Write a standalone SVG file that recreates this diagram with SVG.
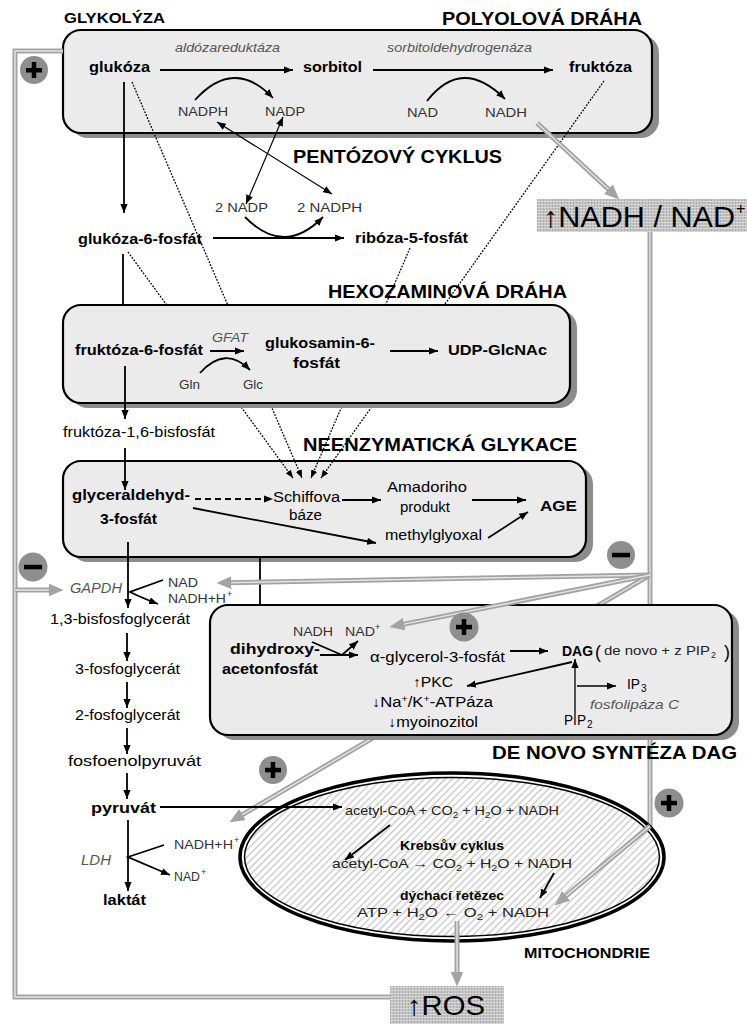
<svg xmlns="http://www.w3.org/2000/svg" width="747" height="1024" viewBox="0 0 747 1024">
<defs>
<style>
text{font-family:"Liberation Sans",Arial,sans-serif;fill:#000}
.h{font-weight:bold;font-size:18px}
.b{font-weight:bold;font-size:14px}
.n{font-size:14px}
.s{font-size:13px;fill:#333}
.i{font-style:italic;font-size:13px;fill:#555}
.m{font-size:13px;fill:#222}
.ln{fill:none;stroke:#000;stroke-width:1.8}
.ar{marker-end:url(#ah)}
.dot{fill:none;stroke:#000;stroke-width:1.3;stroke-dasharray:1.8 1.4;marker-end:url(#ahs)}
.g1{fill:none;stroke:#a3a3a3;stroke-width:5}
.g2{fill:none;stroke:#e4e4e4;stroke-width:1.4}
.box{fill:#ebebeb;stroke:#000;stroke-width:2.2}
.sh{fill:#8c8c8c}
.pm{fill:#8e8e8e}
</style>
<marker id="ah" viewBox="0 0 10 8" refX="10" refY="4" markerWidth="9" markerHeight="7.5" markerUnits="userSpaceOnUse" orient="auto-start-reverse"><path d="M0,0 L10,4 L0,8 z" fill="#000"/></marker>
<marker id="ahs" viewBox="0 0 10 8" refX="10" refY="4" markerWidth="8" markerHeight="7" markerUnits="userSpaceOnUse" orient="auto"><path d="M0,0 L10,4 L0,8 z" fill="#000"/></marker>
<marker id="ag" viewBox="0 0 14 12" refX="6" refY="6" markerWidth="15" markerHeight="13" markerUnits="userSpaceOnUse" orient="auto"><path d="M0,0 L14,6 L0,12 z" fill="#a3a3a3"/></marker>
<pattern id="hatch" width="5" height="5" patternUnits="userSpaceOnUse" patternTransform="rotate(45)"><rect width="5" height="5" fill="#fff"/><rect width="1.3" height="5" fill="#c6c6c6"/></pattern>
<pattern id="stip" width="3" height="3" patternUnits="userSpaceOnUse"><rect width="3" height="3" fill="#c4c4c4"/><rect width="1" height="3" fill="#ababab"/><rect width="3" height="1" fill="#d6d6d6"/></pattern>
</defs>
<rect width="747" height="1024" fill="#fff"/>

<g id="polyol">
<rect class="sh" x="70" y="35" width="589" height="103" rx="18"/>
<rect class="box" x="63" y="30" width="589" height="103" rx="18"/>
<text class="h" x="64" y="23" textLength="101" lengthAdjust="spacingAndGlyphs" style="font-size:15px">GLYKOLÝZA</text>
<text class="h" x="442" y="25" textLength="200" lengthAdjust="spacingAndGlyphs">POLYOLOVÁ DRÁHA</text>
</g>
<g id="glykace">
<rect class="sh" x="70" y="466" width="523" height="96" rx="18"/>
<rect class="box" x="63" y="461" width="523" height="96" rx="18"/>
<text class="h" x="303" y="451" textLength="274" lengthAdjust="spacingAndGlyphs">NEENZYMATICKÁ GLYKACE</text>
</g>

<g id="connectors-dotted">
<path class="dot" d="M128,252 L293,478"/>
<path class="dot" d="M132,82 L302,478"/>
<path class="dot" d="M410,248 L311,478"/>
<path class="dot" d="M604,81 L321,478"/>
</g>

<g id="hexozamin">
<rect class="sh" x="70" y="310" width="507" height="98" rx="18"/>
<rect class="box" x="63" y="305" width="507" height="98" rx="18"/>
<text class="h" x="328" y="298" textLength="239" lengthAdjust="spacingAndGlyphs">HEXOZAMINOVÁ DRÁHA</text>
</g>

<g id="connectors-back">
<path class="g1" d="M650,575 L236.9,817.9"/><path class="g2" d="M650,575 L236.9,817.9" marker-end="url(#ag)"/>
<path class="g1" d="M650,232 L650,827"/><path class="g2" d="M650,232 L650,827"/>
</g>

<g id="dag">
<rect class="sh" x="217" y="610" width="522" height="130" rx="18"/>
<rect class="box" x="210" y="605" width="522" height="130" rx="18"/>
<text class="h" x="492" y="759" textLength="245" lengthAdjust="spacingAndGlyphs">DE NOVO SYNTÉZA DAG</text>
</g>

<g id="mito">
<ellipse cx="452" cy="857" rx="212" ry="84" fill="#fff" stroke="#000" stroke-width="3.5"/>
<ellipse cx="452" cy="857" rx="207.5" ry="79.5" fill="url(#hatch)" stroke="#000" stroke-width="1.5"/>
<text class="b" x="524" y="958" textLength="126" lengthAdjust="spacingAndGlyphs">MITOCHONDRIE</text>
</g>

<g id="connectors">
<path class="ln ar" d="M160,70 L293,70"/>
<path class="ln ar" d="M373,70 L553,70"/>
<path class="ln ar" d="M195,100 Q234,57 273,98"/>
<path class="ln ar" d="M427,101 Q462,56 505,99"/>
<path class="ln ar" style="stroke-width:1.2;marker-start:url(#ah)" d="M217,122 L332,194"/>
<path class="ln ar" style="stroke-width:1.2;marker-start:url(#ah)" d="M283,117 L246,204"/>
<path class="ln ar" d="M245,217 Q284,257 323,217"/>
<path class="ln ar" d="M124,82 L124,213"/>
<path class="ln ar" d="M213,238 L344,238"/>
<path class="ln" d="M123,254 L123,305"/>
<path class="ln ar" d="M210,351 L244,351"/>
<path class="ln ar" d="M200,373 Q225,345 250,370"/>
<path class="ln ar" d="M390,351 L438,351"/>
<path class="ln ar" d="M125,366 L125,419"/>
<path class="ln ar" d="M125,448 L125,490"/>
<path class="ln ar" style="stroke-dasharray:6 4" d="M195,499 L273,499"/>
<path class="ln ar" d="M342,500 L381,500"/>
<path class="ln ar" d="M472,500 L526,500"/>
<path class="ln ar" d="M193,508 L376,543"/>
<path class="ln ar" d="M488,538 L528,512"/>
<path class="ln ar" d="M128,542 L128,608"/>
<path class="ln ar" d="M163,580 L130,592 Q140,597 158,604"/>
<path class="ln ar" d="M127,633 L127,661"/>
<path class="ln ar" d="M127,682 L127,708"/>
<path class="ln ar" d="M127,728 L127,754"/>
<path class="ln ar" d="M127,773 L127,799"/>
<path class="ln ar" d="M160,807 L342,807"/>
<path class="ln ar" d="M128,820 L128,891"/>
<path class="ln ar" d="M164,845 L128,857 L170,875"/>
<path class="ln" d="M260,557 L260,605"/>
<path class="ln ar" d="M312,642 L342,655 L358,641"/>
<path class="ln ar" d="M320,655 L358,655"/>
<path class="ln ar" d="M510,651 L548,651"/>
<path class="ln ar" d="M572,662 L467,686"/>
<path class="ln ar" style="stroke-width:1.3" d="M575,715 L575,659"/>
<path class="ln ar" style="stroke-width:1.3" d="M577,686 L616,686"/>
<path class="ln ar" d="M390,825 L345,860"/>
<path class="ln ar" d="M554,873 L540,898"/>

<path class="g1" d="M537,123 L613.1,193.6"/><path class="g2" d="M537,123 L613.1,193.6" marker-end="url(#ag)"/>
<path class="g1" d="M650,826 L561.2,899.9"/><path class="g2" d="M650,826 L561.2,899.9" marker-end="url(#ag)"/>
<path class="g1" d="M650,575 L225,582.8"/><path class="g2" d="M650,575 L225,582.8" marker-end="url(#ag)"/>
<path class="g1" d="M650,575 L397.8,625.4"/><path class="g2" d="M650,575 L397.8,625.4" marker-end="url(#ag)"/>
<path class="g1" d="M457,921 L457,978"/><path class="g2" d="M457,921 L457,978" marker-end="url(#ag)"/>
<path class="g1" d="M390,997 L15,997 L15,51 L63,51"/><path class="g2" d="M390,997 L15,997 L15,51 L63,51"/>
<path class="g1" d="M15,590 L55,590"/><path class="g2" d="M15,590 L55,590" marker-end="url(#ag)"/>
</g>

<g id="nadh-ratio">
<rect x="537" y="199" width="210" height="33" fill="url(#stip)"/>
<text x="543" y="227" textLength="192" lengthAdjust="spacingAndGlyphs" style="font-size:29px">↑NADH / NAD</text>
<text x="736" y="214" style="font-size:16px">+</text>
</g>
<g id="ros">
<rect x="390" y="986" width="114" height="38" fill="url(#stip)"/>
<text x="407" y="1015" textLength="78" lengthAdjust="spacingAndGlyphs" style="font-size:28px">↑ROS</text>
</g>

<g id="n-glukoza"><text class="b" x="89" y="72" textLength="61" lengthAdjust="spacingAndGlyphs">glukóza</text></g>
<g id="e-aldozareduktaza"><text class="i" x="175" y="52" textLength="105" lengthAdjust="spacingAndGlyphs">aldózareduktáza</text></g>
<g id="n-sorbitol"><text class="b" x="303" y="72" textLength="59" lengthAdjust="spacingAndGlyphs">sorbitol</text></g>
<g id="e-sdh"><text class="i" x="387" y="52" textLength="145" lengthAdjust="spacingAndGlyphs">sorbitoldehydrogenáza</text></g>
<g id="n-fruktoza"><text class="b" x="569" y="72" textLength="63" lengthAdjust="spacingAndGlyphs">fruktóza</text></g>
<g id="n-nadph1"><text class="s" x="178" y="116" textLength="50" lengthAdjust="spacingAndGlyphs">NADPH</text></g>
<g id="n-nadp1"><text class="s" x="265" y="116" textLength="40" lengthAdjust="spacingAndGlyphs">NADP</text></g>
<g id="n-nad1"><text class="s" x="407" y="117" textLength="31" lengthAdjust="spacingAndGlyphs">NAD</text></g>
<g id="n-nadh1"><text class="s" x="485" y="117" textLength="42" lengthAdjust="spacingAndGlyphs">NADH</text></g>

<g id="l-pentoza"><text class="h" x="293" y="163" textLength="209" lengthAdjust="spacingAndGlyphs">PENTÓZOVÝ CYKLUS</text></g>
<g id="n-2nadp"><text class="s" x="215" y="212" textLength="53" lengthAdjust="spacingAndGlyphs">2 NADP</text></g>
<g id="n-2nadph"><text class="s" x="297" y="212" textLength="65" lengthAdjust="spacingAndGlyphs">2 NADPH</text></g>
<g id="n-g6p"><text class="b" x="78" y="244" textLength="124" lengthAdjust="spacingAndGlyphs">glukóza-6-fosfát</text></g>
<g id="n-r5p"><text class="b" x="355" y="243" textLength="113" lengthAdjust="spacingAndGlyphs">ribóza-5-fosfát</text></g>

<g id="n-f6p"><text class="b" x="75" y="355" textLength="128" lengthAdjust="spacingAndGlyphs">fruktóza-6-fosfát</text></g>
<g id="e-gfat"><text class="i" x="212" y="342" textLength="36" lengthAdjust="spacingAndGlyphs">GFAT</text></g>
<g id="n-gln"><text class="s" x="179" y="389" textLength="21" lengthAdjust="spacingAndGlyphs">Gln</text></g>
<g id="n-glc"><text class="s" x="243" y="389" textLength="20" lengthAdjust="spacingAndGlyphs">Glc</text></g>
<g id="n-glcn6p"><text class="b" x="265" y="348" textLength="110" lengthAdjust="spacingAndGlyphs">glukosamin-6-</text><text class="b" x="293" y="368" textLength="47" lengthAdjust="spacingAndGlyphs">fosfát</text></g>
<g id="n-udp"><text class="b" x="448" y="355" textLength="99" lengthAdjust="spacingAndGlyphs">UDP-GlcNAc</text></g>
<g id="n-f16bp"><text class="n" x="63" y="437" textLength="152" lengthAdjust="spacingAndGlyphs">fruktóza-1,6-bisfosfát</text></g>

<g id="n-ga3p"><text class="b" x="72" y="500" textLength="118" lengthAdjust="spacingAndGlyphs">glyceraldehyd-</text><text class="b" x="100" y="524" textLength="57" lengthAdjust="spacingAndGlyphs">3-fosfát</text></g>
<g id="n-schiff"><text class="n" x="273" y="502" textLength="67" lengthAdjust="spacingAndGlyphs">Schiffova</text><text class="n" x="289" y="520" textLength="33" lengthAdjust="spacingAndGlyphs">báze</text></g>
<g id="n-amadori"><text class="n" x="387" y="492" textLength="80" lengthAdjust="spacingAndGlyphs">Amadoriho</text><text class="n" x="400" y="512" textLength="50" lengthAdjust="spacingAndGlyphs">produkt</text></g>
<g id="n-age"><text class="b" x="540" y="511" textLength="37" lengthAdjust="spacingAndGlyphs" style="font-size:15px">AGE</text></g>
<g id="n-mgo"><text class="n" x="385" y="540" textLength="97" lengthAdjust="spacingAndGlyphs">methylglyoxal</text></g>

<g id="e-gapdh"><text class="i" x="70" y="593" textLength="52" lengthAdjust="spacingAndGlyphs" style="font-size:14px">GAPDH</text></g>
<g id="n-nad2"><text class="s" x="168" y="587" textLength="30" lengthAdjust="spacingAndGlyphs">NAD</text></g>
<g id="n-nadh2"><text class="s" x="168" y="603" textLength="58" lengthAdjust="spacingAndGlyphs">NADH+H</text><text class="s" x="227" y="597" style="font-size:9px">+</text></g>
<g id="n-13bpg"><text class="n" x="50" y="624" textLength="140" lengthAdjust="spacingAndGlyphs">1,3-bisfosfoglycerát</text></g>
<g id="n-3pg"><text class="n" x="75" y="674" textLength="105" lengthAdjust="spacingAndGlyphs">3-fosfoglycerát</text></g>
<g id="n-2pg"><text class="n" x="75" y="720" textLength="105" lengthAdjust="spacingAndGlyphs">2-fosfoglycerát</text></g>
<g id="n-pep"><text class="n" x="68" y="766" textLength="133" lengthAdjust="spacingAndGlyphs">fosfoenolpyruvát</text></g>
<g id="n-pyruvat"><text class="b" x="91" y="813" textLength="65" lengthAdjust="spacingAndGlyphs" style="font-size:15px">pyruvát</text></g>
<g id="e-ldh"><text class="i" x="81" y="865" textLength="30" lengthAdjust="spacingAndGlyphs" style="font-size:14px">LDH</text></g>
<g id="n-nadh3"><text class="s" x="174" y="849" textLength="59" lengthAdjust="spacingAndGlyphs">NADH+H</text><text class="s" x="234" y="843" style="font-size:9px">+</text></g>
<g id="n-nad3"><text class="s" x="174" y="881" textLength="26" lengthAdjust="spacingAndGlyphs">NAD</text><text class="s" x="201" y="875" style="font-size:9px">+</text></g>
<g id="n-laktat"><text class="b" x="103" y="905" textLength="43" lengthAdjust="spacingAndGlyphs">laktát</text></g>

<g id="n-nadh4"><text class="s" x="293" y="636" textLength="40" lengthAdjust="spacingAndGlyphs">NADH</text></g>
<g id="n-nad4"><text class="s" x="345" y="636" textLength="30" lengthAdjust="spacingAndGlyphs">NAD</text><text class="s" x="375" y="630" style="font-size:9px">+</text></g>
<g id="n-dhap"><text class="b" x="230" y="654" textLength="90" lengthAdjust="spacingAndGlyphs">dihydroxy-</text><text class="b" x="222" y="674" textLength="96" lengthAdjust="spacingAndGlyphs">acetonfosfát</text></g>
<g id="n-ag3p"><text class="n" x="370" y="662" textLength="135" lengthAdjust="spacingAndGlyphs">α-glycerol-3-fosfát</text></g>
<g id="n-dag"><text class="b" x="562" y="656" textLength="31" lengthAdjust="spacingAndGlyphs" style="font-size:15px">DAG</text>
<text x="595" y="658" style="font-size:18px">(</text>
<text class="m" x="604" y="655" textLength="106" lengthAdjust="spacingAndGlyphs">de novo + z PIP</text>
<text class="m" x="711" y="658" style="font-size:9px">2</text>
<text x="724" y="658" style="font-size:18px">)</text></g>
<g id="n-effects"><text class="n" x="413" y="687" textLength="40" lengthAdjust="spacingAndGlyphs">↑PKC</text>
<text class="n" x="372" y="707" textLength="121" lengthAdjust="spacingAndGlyphs">↓Na<tspan dy="-5" style="font-size:9px">+</tspan><tspan dy="5">/K</tspan><tspan dy="-5" style="font-size:9px">+</tspan><tspan dy="5">-ATPáza</tspan></text>
<text class="n" x="388" y="727" textLength="90" lengthAdjust="spacingAndGlyphs">↓myoinozitol</text></g>
<g id="n-ip3"><text class="n" x="627" y="689" textLength="13" lengthAdjust="spacingAndGlyphs">IP</text><text class="n" x="641" y="692" style="font-size:10px">3</text></g>
<g id="e-plc"><text class="i" x="590" y="709" textLength="89" lengthAdjust="spacingAndGlyphs">fosfolipáza C</text></g>
<g id="n-pip2"><text class="n" x="564" y="725" textLength="22" lengthAdjust="spacingAndGlyphs">PIP</text><text class="n" x="587" y="728" style="font-size:10px">2</text></g>

<g id="n-mito-texts">
<text class="m" x="345" y="815" textLength="214" lengthAdjust="spacingAndGlyphs">acetyl-CoA + CO<tspan dy="3" style="font-size:9px">2</tspan><tspan dy="-3"> + H</tspan><tspan dy="3" style="font-size:9px">2</tspan><tspan dy="-3">O + NADH</tspan></text>
<text class="b" x="400" y="850" textLength="104" lengthAdjust="spacingAndGlyphs" style="font-size:13px">Krebsův cyklus</text>
<text class="m" x="332" y="868" textLength="240" lengthAdjust="spacingAndGlyphs">acetyl-CoA  →  CO<tspan dy="3" style="font-size:9px">2</tspan><tspan dy="-3">  +  H</tspan><tspan dy="3" style="font-size:9px">2</tspan><tspan dy="-3">O  +  NADH</tspan></text>
<text class="b" x="400" y="900" textLength="104" lengthAdjust="spacingAndGlyphs" style="font-size:13px">dýchací řetězec</text>
<text class="m" x="357" y="917" textLength="192" lengthAdjust="spacingAndGlyphs">ATP  +  H<tspan dy="3" style="font-size:9px">2</tspan><tspan dy="-3">O  ←  O</tspan><tspan dy="3" style="font-size:9px">2</tspan><tspan dy="-3">  +  NADH</tspan></text>
</g>

<g id="reg-plus1"><circle class="pm" cx="34" cy="70" r="14"/><rect x="26" y="68" width="16" height="4.5"/><rect x="31.75" y="62" width="4.5" height="16"/></g>
<g id="reg-minus1"><circle class="pm" cx="33" cy="567" r="14.5"/><rect x="24" y="564.8" width="18" height="4.5"/></g>
<g id="reg-minus2"><circle class="pm" cx="621" cy="555" r="14"/><rect x="612" y="552.8" width="18" height="4.5"/></g>
<g id="reg-plus2"><circle class="pm" cx="464" cy="627" r="14.5"/><rect x="456" y="624.8" width="16" height="4.5"/><rect x="461.75" y="619" width="4.5" height="16"/></g>
<g id="reg-plus3"><circle class="pm" cx="273" cy="770" r="14"/><rect x="265" y="767.8" width="16" height="4.5"/><rect x="270.75" y="762" width="4.5" height="16"/></g>
<g id="reg-plus4"><circle class="pm" cx="669" cy="803" r="14.5"/><rect x="661" y="800.8" width="16" height="4.5"/><rect x="666.75" y="795" width="4.5" height="16"/></g>
</svg>
